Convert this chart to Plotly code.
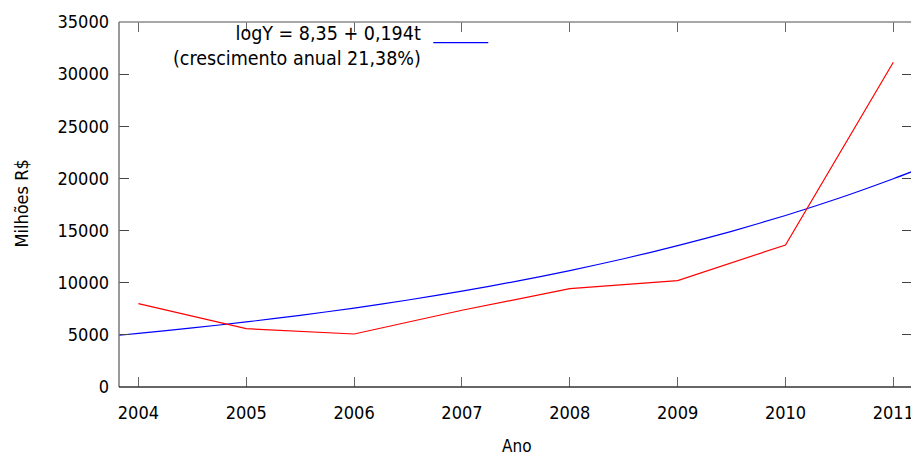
import plotly.graph_objects as go

# Observed series (Milhões R$)
years = [2004, 2005, 2006, 2007, 2008, 2009, 2010, 2011]
observed = [7990, 5590, 5080, 7360, 9430, 10200, 13620, 31140]

# Fitted trend curve values (logY = 8,35 + 0,194t)
trend_x = [2003.82, 2004, 2004.5, 2005, 2005.5, 2006, 2006.5, 2007, 2007.5, 2008,
           2008.5, 2009, 2009.5, 2010, 2010.5, 2011, 2011.17]
trend_y = [4960, 5140, 5660, 6240, 6870, 7570, 8340, 9190, 10130, 11160,
           12300, 13550, 14930, 16450, 18120, 19970, 20640]

y_ticks = [0, 5000, 10000, 15000, 20000, 25000, 30000, 35000]
y_labels = [str(v) for v in y_ticks]
key_text = "logY = 8,35 + 0,194t<br>(crescimento anual 21,38%)"
x_title = "Ano"
y_title = "Milhões R$"

FONT = "DejaVu Sans Condensed, DejaVu Sans"

fig = go.Figure()
fig.add_trace(go.Scatter(x=trend_x, y=trend_y, mode="lines", line=dict(color="#0000ff", width=1.2, shape="spline", smoothing=0.6), showlegend=False))
fig.add_trace(go.Scatter(x=years, y=observed, mode="lines", line=dict(color="#ff0000", width=1.2), showlegend=False))

OFF = 8  # page body margin
W, H = 919 - OFF, 457 - OFF
L, R, T, B = 118.5 - OFF, 7, 22 - OFF, 70
pw = W - L - R
ph = H - T - B


def px(xs):
    return (xs - OFF - L) / pw


def py(ys):
    return (H - B - (ys - OFF)) / ph


fig.update_layout(
    width=W, height=H,
    margin=dict(l=L, r=R, t=T, b=B, autoexpand=False),
    paper_bgcolor="white", plot_bgcolor="white",
    font=dict(family=FONT, size=18, color="#000000"),
    xaxis=dict(range=[2003.82, 2011.173], tickvals=years, ticktext=[str(y) for y in years],
               ticks="inside", ticklen=10, tickcolor="#666666", tickwidth=1.2,
               showline=False, mirror="ticks", showgrid=False, zeroline=False,
               automargin=False, ticklabelstandoff=13, tickfont=dict(size=18)),
    yaxis=dict(range=[0, 35000], tickvals=y_ticks, ticktext=y_labels, ticks="inside", ticklen=10,
               tickcolor="#444444", tickwidth=1.2, showline=False, mirror="ticks",
               showgrid=False, zeroline=False, ticklabelstandoff=9, automargin=False,
               tickfont=dict(size=18)),
)

# plot border: top/left gray, bottom/right dark
fig.add_shape(type="line", xref="paper", yref="paper", x0=0, x1=1, y0=1, y1=1, line=dict(color="#8a8a8a", width=1.5))
fig.add_shape(type="line", xref="paper", yref="paper", x0=0, x1=0, y0=0, y1=1, line=dict(color="#777777", width=1.5))
fig.add_shape(type="line", xref="paper", yref="paper", x0=0, x1=1, y0=0, y1=0, line=dict(color="#333333", width=1.5))
fig.add_shape(type="line", xref="paper", yref="paper", x0=1, x1=1, y0=0, y1=1, line=dict(color="#222222", width=1.5))

# axis titles
fig.add_annotation(xref="paper", yref="paper", x=px(517), y=py(446),
                   xanchor="center", yanchor="middle", showarrow=False, text=x_title,
                   font=dict(size=17, family=FONT))
fig.add_annotation(xref="paper", yref="paper", x=px(21), y=py(204),
                   xanchor="center", yanchor="middle", showarrow=False, text=y_title,
                   textangle=-90, font=dict(size=18, family=FONT))

# key
fig.add_annotation(xref="paper", yref="paper", x=px(423), y=py(20),
                   xanchor="right", yanchor="top", align="right", showarrow=False,
                   text=key_text, font=dict(size=19.5, family=FONT))
ky = py(42.7)
fig.add_shape(type="line", xref="paper", yref="paper", x0=px(433), x1=px(488),
              y0=ky, y1=ky, line=dict(color="#0000ff", width=1.2))

fig.write_html("out.html")
